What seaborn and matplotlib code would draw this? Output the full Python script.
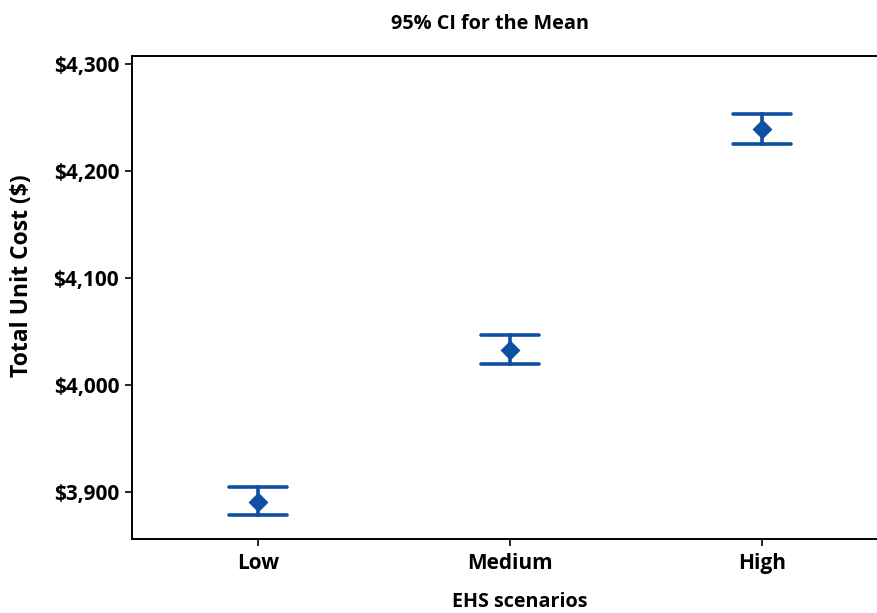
import matplotlib
matplotlib.use("Agg")
import matplotlib.pyplot as plt
import matplotlib.ticker as mticker
import seaborn as sns
import pandas as pd

# Data
scenarios = ["Low", "Medium", "High"]
means = [3890.6, 4032.5, 4239.0]
ci_lower = [3878.2, 4019.4, 4225.0]
ci_upper = [3904.1, 4046.5, 4253.6]
y_ticks = [3900, 4000, 4100, 4200, 4300]

# Long table: median of (lower, mean, upper) is the mean, 100% interval gives the CI
rows = []
for s, lo, m, hi in zip(scenarios, ci_lower, means, ci_upper):
    for v in (lo, m, hi):
        rows.append({"EHS scenarios": s, "Total Unit Cost ($)": v})
df = pd.DataFrame(rows)

sns.set_style("white")
plt.rcParams["font.family"] = ["Open Sans", "DejaVu Sans"]
plt.rcParams["text.color"] = "black"
plt.rcParams["axes.labelcolor"] = "black"

color = "#0F4FA3"
fig = plt.figure(figsize=(8.78, 6.13), dpi=100)
ax = fig.add_axes([0.150, 0.1202, 1.0114 - 0.150, 0.9091 - 0.1202])

sns.pointplot(data=df, x="EHS scenarios", y="Total Unit Cost ($)",
              order=scenarios, estimator="median", errorbar=("pi", 100),
              color=color, markers="D", linestyles="none", capsize=0.23,
              markersize=8, err_kws={"linewidth": 2.6}, ax=ax)

ax.set_xlim(-0.5, 2.5)
ax.set_ylim(3855.5, 4307.8)
ax.set_yticks(y_ticks)
ax.yaxis.set_major_formatter(mticker.FuncFormatter(lambda v, p: f"${v:,.0f}"))

for side in ("left", "bottom", "top"):
    ax.spines[side].set_visible(True)
    ax.spines[side].set_color("black")
    ax.spines[side].set_linewidth(1.4)
ax.spines["right"].set_visible(False)

ax.tick_params(axis="both", which="major", direction="out", length=5, width=1.2,
               colors="black", labelsize=15)
ax.tick_params(axis="x", bottom=True, top=False, pad=5)
ax.tick_params(axis="y", left=True, right=False, pad=4)
for lab in ax.get_xticklabels() + ax.get_yticklabels():
    lab.set_fontweight("bold")

ax.set_xlabel("EHS scenarios", fontsize=14.2, fontweight="bold", va="center")
ax.set_ylabel("Total Unit Cost ($)", fontsize=16.5, fontweight="bold", va="center")
ax.xaxis.set_label_coords(520 / 878, 1 - 602 / 613, transform=fig.transFigure)
ax.yaxis.set_label_coords(22 / 878, 1 - 276 / 613, transform=fig.transFigure)

fig.text(490 / 878, 1 - 24 / 613, "95% CI for the Mean", ha="center", va="center",
         fontsize=14.3, fontweight="bold")

fig.savefig("out.png", dpi=100)
